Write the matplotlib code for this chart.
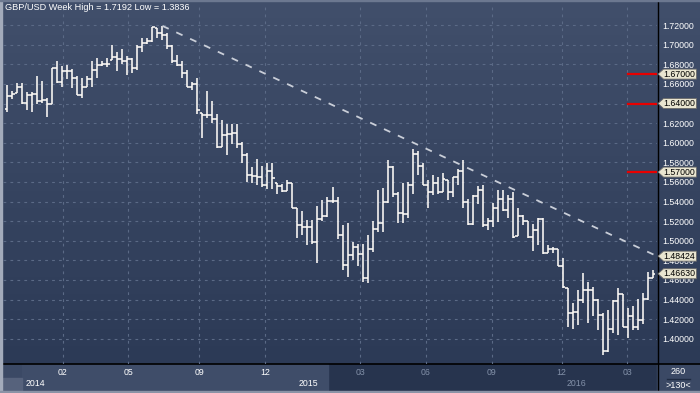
import numpy as np
import matplotlib
matplotlib.use("Agg")
import matplotlib.pyplot as plt
from matplotlib.colors import LinearSegmentedColormap
from matplotlib.patches import Rectangle, Polygon
from matplotlib.transforms import blended_transform_factory

plt.rcParams['font.family'] = ['Liberation Sans', 'DejaVu Sans']
plt.rcParams['lines.scale_dashes'] = False

# weekly GBP/USD bars
opens = [1.634, 1.648, 1.651, 1.657, 1.641, 1.649, 1.650, 1.643, 1.644, 1.640,
         1.676, 1.662, 1.673, 1.673, 1.666, 1.649, 1.657, 1.665, 1.674, 1.679,
         1.680, 1.684, 1.687, 1.685, 1.683, 1.685, 1.676, 1.698, 1.702, 1.704,
         1.717, 1.712, 1.710, 1.699, 1.683, 1.679, 1.671, 1.657, 1.660, 1.630,
         1.628, 1.628, 1.624, 1.596, 1.608, 1.609, 1.610, 1.599, 1.587, 1.567,
         1.566, 1.565, 1.557, 1.571, 1.559, 1.556, 1.551, 1.559, 1.533, 1.516,
         1.514, 1.514, 1.499, 1.522, 1.525, 1.541, 1.541, 1.506, 1.475, 1.485,
         1.494, 1.486, 1.462, 1.492, 1.512, 1.518, 1.540, 1.575, 1.548, 1.528,
         1.527, 1.557, 1.588, 1.576, 1.557, 1.550, 1.559, 1.550, 1.562, 1.550,
         1.565, 1.571, 1.540, 1.517, 1.546, 1.552, 1.516, 1.520, 1.533, 1.543,
         1.531, 1.543, 1.505, 1.525, 1.520, 1.504, 1.511, 1.522, 1.487, 1.492,
         1.492, 1.474, 1.452, 1.426, 1.427, 1.440, 1.450, 1.450, 1.440, 1.424,
         1.387, 1.410, 1.438, 1.446, 1.412, 1.423, 1.412, 1.419, 1.441, 1.462]
highs = [1.659, 1.653, 1.661, 1.661, 1.652, 1.652, 1.668, 1.663, 1.646, 1.676,
         1.683, 1.678, 1.679, 1.675, 1.668, 1.666, 1.668, 1.683, 1.686, 1.683,
         1.686, 1.700, 1.693, 1.696, 1.688, 1.686, 1.700, 1.707, 1.707, 1.718,
         1.717, 1.7192, 1.712, 1.700, 1.690, 1.683, 1.674, 1.662, 1.666, 1.630,
         1.653, 1.643, 1.629, 1.623, 1.619, 1.619, 1.619, 1.601, 1.590, 1.575,
         1.583, 1.576, 1.579, 1.579, 1.559, 1.558, 1.562, 1.559, 1.533, 1.530,
         1.521, 1.521, 1.535, 1.542, 1.545, 1.555, 1.545, 1.516, 1.518, 1.499,
         1.497, 1.497, 1.506, 1.520, 1.552, 1.554, 1.582, 1.576, 1.550, 1.559,
         1.560, 1.594, 1.592, 1.579, 1.562, 1.567, 1.565, 1.569, 1.562, 1.565,
         1.573, 1.582, 1.543, 1.547, 1.556, 1.557, 1.523, 1.538, 1.552, 1.552,
         1.547, 1.550, 1.533, 1.526, 1.520, 1.517, 1.523, 1.523, 1.496, 1.494,
         1.492, 1.482, 1.452, 1.436, 1.450, 1.467, 1.458, 1.453, 1.441, 1.426,
         1.429, 1.440, 1.452, 1.446, 1.431, 1.433, 1.441, 1.447, 1.468, 1.470]
lows = [1.631, 1.645, 1.651, 1.640, 1.633, 1.631, 1.640, 1.641, 1.626, 1.639,
        1.661, 1.657, 1.665, 1.656, 1.649, 1.646, 1.657, 1.657, 1.666, 1.678,
        1.677, 1.684, 1.673, 1.680, 1.669, 1.671, 1.674, 1.693, 1.701, 1.703,
        1.707, 1.705, 1.696, 1.681, 1.678, 1.666, 1.657, 1.654, 1.629, 1.605,
        1.625, 1.620, 1.595, 1.596, 1.587, 1.599, 1.595, 1.579, 1.560, 1.559,
        1.557, 1.555, 1.553, 1.553, 1.548, 1.550, 1.551, 1.533, 1.503, 1.506,
        1.496, 1.497, 1.477, 1.520, 1.524, 1.538, 1.502, 1.470, 1.463, 1.480,
        1.474, 1.458, 1.457, 1.488, 1.509, 1.509, 1.538, 1.545, 1.518, 1.518,
        1.523, 1.548, 1.567, 1.557, 1.533, 1.547, 1.548, 1.550, 1.542, 1.545,
        1.557, 1.533, 1.516, 1.516, 1.537, 1.514, 1.511, 1.514, 1.519, 1.530,
        1.523, 1.503, 1.505, 1.516, 1.503, 1.489, 1.496, 1.486, 1.487, 1.487,
        1.474, 1.452, 1.412, 1.410, 1.414, 1.436, 1.416, 1.423, 1.409, 1.3836,
        1.386, 1.406, 1.404, 1.412, 1.401, 1.409, 1.409, 1.415, 1.440, 1.462]
closes = [1.648, 1.650, 1.657, 1.641, 1.649, 1.650, 1.643, 1.644, 1.640, 1.676,
          1.662, 1.673, 1.673, 1.666, 1.649, 1.657, 1.665, 1.674, 1.679, 1.680,
          1.680, 1.687, 1.685, 1.683, 1.685, 1.676, 1.698, 1.702, 1.704, 1.718,
          1.712, 1.710, 1.699, 1.683, 1.679, 1.671, 1.657, 1.660, 1.633, 1.628,
          1.628, 1.624, 1.596, 1.608, 1.609, 1.610, 1.599, 1.587, 1.567, 1.566,
          1.565, 1.557, 1.571, 1.564, 1.556, 1.551, 1.559, 1.533, 1.516, 1.514,
          1.514, 1.499, 1.522, 1.525, 1.541, 1.541, 1.506, 1.475, 1.485, 1.494,
          1.486, 1.462, 1.492, 1.512, 1.518, 1.540, 1.575, 1.548, 1.528, 1.527,
          1.557, 1.588, 1.576, 1.557, 1.550, 1.559, 1.550, 1.563, 1.550, 1.565,
          1.571, 1.540, 1.517, 1.546, 1.552, 1.516, 1.520, 1.533, 1.543, 1.531,
          1.543, 1.504, 1.525, 1.520, 1.504, 1.511, 1.522, 1.487, 1.492, 1.492,
          1.474, 1.453, 1.426, 1.427, 1.440, 1.450, 1.450, 1.440, 1.424, 1.387,
          1.410, 1.438, 1.446, 1.412, 1.423, 1.412, 1.419, 1.441, 1.462, 1.4663]

month_ticks = [11.07, 24.19, 38.38, 51.51, 70.5, 83.69, 96.82, 110.81, 123.92]
month_labels = ['02', '05', '09', '12', '03', '06', '09', '12', '03']
year_ticks = [2.94, 57.5, 110.9]
year_labels = ['2014', '2015', '2016']

levels = [1.67, 1.64, 1.57]
trend_start_idx = 31
trend_start = 1.7192
trend_end = 1.48424
last_close = 1.4663

W, H = 700, 393
fig = plt.figure(figsize=(W / 100, H / 100), dpi=100)

# background layer in pixel coords
bg = fig.add_axes([0, 0, 1, 1])
bg.set_xlim(0, W)
bg.set_ylim(H, 0)
bg.axis('off')
grad = LinearSegmentedColormap.from_list('g', ['#414f6b', '#2c3a56'])
bg.imshow(np.linspace(0, 1, 256).reshape(-1, 1), cmap=grad, aspect='auto',
          extent=(0, W, 364, 0), zorder=0)
bg.add_patch(Rectangle((0, 364), W, H - 364, color='#27344e', zorder=1))
bg.add_patch(Rectangle((0, 364), 22, 14, color='#3b4965', zorder=1))
bg.add_patch(Rectangle((22, 364), 306, 27, color='#3f4d69', zorder=1))
bg.add_patch(Rectangle((3, 378), 19, 13, color='#56627c', zorder=1))
bg.add_patch(Rectangle((657, 364), W - 657, 27, color='#3b4965', zorder=1))
bg.plot([667, 690], [378.5, 378.5], color='#1f2b42', lw=1.0, zorder=2)
bg.plot([0, W], [364, 364], color='black', lw=1.2, zorder=3)
bg.plot([657.5, 657.5], [0, H], color='black', lw=1.0, zorder=3)
bg.add_patch(Rectangle((0, 0), 2, H, color='#a3abbb', zorder=4))
bg.add_patch(Rectangle((0, H - 2), W, 2, color='#8a93a6', zorder=4))
bg.add_patch(Rectangle((0, 0), W, 1, color='#6c7890', zorder=4))
bg.text(678, 372, '260', color='white', fontsize=6.5, ha='center', va='center', zorder=5)
bg.text(678, 385, '>130<', color='white', fontsize=6.5, ha='center', va='center', zorder=5)

ax = fig.add_axes([3 / W, 29 / H, 654 / W, 361 / H])
ax.set_facecolor('none')
n = len(closes)
x = np.arange(n)
ax.set_xlim(-0.86, 129.86)
ax.set_ylim(1.3742, 1.74255)
for s in ax.spines.values():
    s.set_visible(False)

ax.set_xticks(month_ticks)
ax.set_xticklabels([])
ax.tick_params(axis='x', length=0)
ax.yaxis.tick_right()
yt = np.arange(1.40, 1.7201, 0.02)
ax.set_yticks(yt)
ax.set_yticklabels([f'{v:.5f}' for v in yt])
ax.tick_params(axis='y', length=0, pad=3.5, labelsize=6.3, labelcolor='white')
ax.grid(True, color='#5b6a86', linestyle=(0, (2, 3)), lw=0.8)
ax.set_axisbelow(True)

# OHLC bars
bar_col = '#fdfaf6'
ax.vlines(x, lows, highs, color=bar_col, lw=1.15, zorder=3)
ax.hlines(opens, x - 0.45, x, color=bar_col, lw=1.15, zorder=3)
ax.hlines(closes, x, x + 0.45, color=bar_col, lw=1.15, zorder=3)

# trend line
x_end = ax.get_xlim()[1]
ax.plot([trend_start_idx, x_end], [trend_start, trend_end], color='#c9ced8',
        lw=1.3, linestyle=(0, (5, 6)), zorder=4, clip_on=False)

# horizontal levels
for v in levels:
    ax.axhline(v, xmin=(628 - 3) / 654, xmax=1, color='#e80000', lw=1.6, zorder=4)

# price markers on the right axis
tr = blended_transform_factory(ax.transAxes, ax.transData)
hh = 5.0 / 980
x_tip, x_l, x_r = (658 - 3) / 654, (663.5 - 3) / 654, (696.5 - 3) / 654
for v in levels + [trend_end, last_close]:
    poly = Polygon([(x_tip, v), (x_l, v + hh), (x_r, v + hh), (x_r, v - hh), (x_l, v - hh)],
                   closed=True, transform=tr, clip_on=False, facecolor='#e9e5d0',
                   edgecolor='#6a6a6a', lw=0.6, zorder=6)
    ax.add_patch(poly)
    ax.text((679 - 3) / 654, v, f'{v:.5f}', transform=tr, color='black', fontsize=6.3,
            ha='center', va='center', zorder=7, clip_on=False)

# bottom axis labels
trx = blended_transform_factory(ax.transData, ax.transAxes)
for p, lab in zip(month_ticks, month_labels):
    col = 'white' if p < 60 else '#8391a9'
    ax.text(p, -8.7 / 361, lab, transform=trx, color=col, fontsize=6.3,
            ha='center', va='center', clip_on=False)
for p, lab in zip(year_ticks, year_labels):
    col = 'white' if p < 60 else '#8391a9'
    ax.text(p + 0.8, -19.5 / 361, lab, transform=trx, color=col, fontsize=6.3,
            ha='left', va='center', clip_on=False)

fig.text(5 / W, 1 - 8 / H, 'GBP/USD Week High = 1.7192 Low = 1.3836', color='white',
         fontsize=6.6, ha='left', va='center')

fig.savefig('out.png', dpi=100)
